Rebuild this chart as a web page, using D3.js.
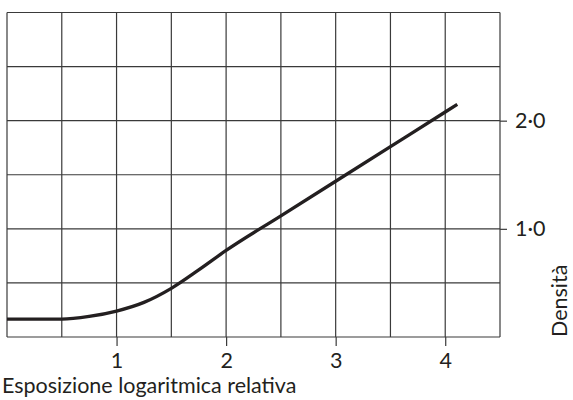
<!DOCTYPE html>
<html>
<head>
  <meta charset="utf-8">
  <script src="https://d3js.org/d3.v7.min.js"></script>
  <style>
  body { margin: 0; background: #fff; }
  text { font-family: Lato, "Open Sans", sans-serif; fill: #231f20; }
  </style>
</head>
<body>
<div id="chart"></div>
<script>
// curve
var exposure = [0, 0.5, 0.75, 1, 1.25, 1.5, 1.75, 2, 2.5, 3, 3.5, 4, 4.11];
var density  = [0.165, 0.165, 0.19, 0.24, 0.32, 0.45, 0.62, 0.80, 1.12, 1.44, 1.76, 2.08, 2.15];
var xTicks = [1, 2, 3, 4];
var yTicks = [1, 2];
var yTickLabels = ["1·0", "2·0"];
var gridX = [0, 0.5, 1, 1.5, 2, 2.5, 3, 3.5, 4, 4.5];
var gridY = [0, 0.5, 1, 1.5, 2, 2.5, 3];

var W = 573, H = 400;
var LEFT = 7, RIGHT = 500, TOP = 12.5, BOTTOM = 337;
var FONT = 21.5;

var svg = d3.select("#chart").append("svg")
  .attr("width", W)
  .attr("height", H);

var x = d3.scaleLinear().domain([0, 4.5]).range([LEFT, RIGHT]);
var y = d3.scaleLinear().domain([0, 3]).range([BOTTOM, TOP]);

// grid
svg.append("g").selectAll("line").data(gridX).enter().append("line")
  .attr("x1", d => x(d)).attr("x2", d => x(d))
  .attr("y1", TOP).attr("y2", BOTTOM)
  .attr("stroke", "#3a3a3a").attr("stroke-width", 1.2);
svg.append("g").selectAll("line").data(gridY).enter().append("line")
  .attr("y1", d => y(d)).attr("y2", d => y(d))
  .attr("x1", LEFT).attr("x2", RIGHT)
  .attr("stroke", "#3a3a3a").attr("stroke-width", 1.2);

// axes
var xAxis = svg.append("g")
  .attr("transform", "translate(0," + BOTTOM + ")")
  .call(d3.axisBottom(x).tickValues(xTicks).tickSize(9).tickPadding(7).tickFormat(d3.format("d")));
xAxis.select(".domain").remove();
xAxis.selectAll("line").attr("stroke", "#3a3a3a").attr("stroke-width", 1.2);
xAxis.selectAll("text").attr("font-size", FONT).attr("font-family", "Lato").attr("fill", "#231f20");

var yAxis = svg.append("g")
  .attr("transform", "translate(" + RIGHT + ",0)")
  .call(d3.axisRight(y).tickValues(yTicks).tickSize(7).tickPadding(8)
    .tickFormat((d, i) => yTickLabels[i]));
yAxis.select(".domain").remove();
yAxis.selectAll("line").attr("stroke", "#3a3a3a").attr("stroke-width", 1.2);
yAxis.selectAll("text").attr("font-size", FONT).attr("font-family", "Lato").attr("fill", "#231f20");

// the curve
var pts = exposure.map((e, i) => [e, density[i]]);
svg.append("path")
  .datum(pts)
  .attr("fill", "none")
  .attr("stroke", "#231f20")
  .attr("stroke-width", 3.3)
  .attr("d", d3.line().x(d => x(d[0])).y(d => y(d[1])).curve(d3.curveMonotoneX));

// labels
svg.append("text")
  .attr("x", 2).attr("y", 393)
  .attr("font-size", FONT)
  .text("Esposizione logaritmica relativa");

svg.append("text")
  .attr("transform", "translate(567," + BOTTOM + ") rotate(-90)")
  .attr("font-size", FONT)
  .text("Densità");
</script>
</body>
</html>
